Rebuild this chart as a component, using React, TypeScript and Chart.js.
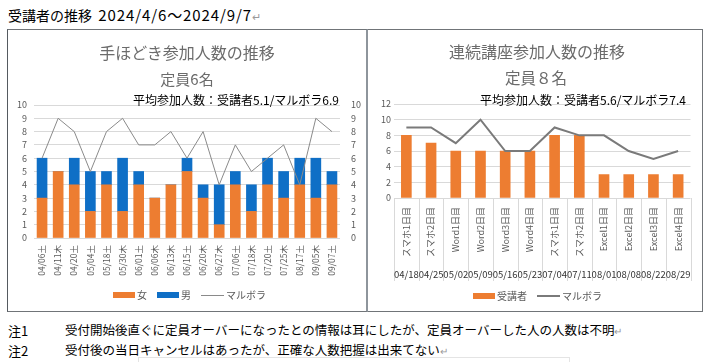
import React, { useEffect, useRef } from 'react';
import { Chart, registerables } from 'chart.js';

Chart.register(...registerables);

const JP = '"Noto Sans CJK JP", "Noto Sans", sans-serif';

// ---- Left chart data (手ほどき) ----
const leftDates = ['04/06土', '04/11木', '04/20土', '05/04土', '05/18土', '05/30木', '06/01土', '06/06木', '06/13木', '06/15土', '06/20木', '06/27木', '07/06土', '07/18木', '07/20土', '07/25木', '08/17土', '09/05木', '09/07土'];
const women = [3, 5, 4, 2, 4, 2, 4, 3, 4, 5, 3, 1, 4, 2, 4, 3, 4, 3, 4];
const men = [3, 0, 2, 3, 1, 4, 1, 0, 0, 1, 1, 3, 1, 2, 2, 2, 2, 3, 1];
const leftVolunteers = [6, 9, 8, 5, 8, 9, 7, 7, 8, 6, 8, 4, 7, 5, 6, 7, 4, 9, 8];
const leftYMax = 10;
const leftYStep = 1;

// ---- Right chart data (連続講座) ----
const rightCourses = ['スマホ1日目', 'スマホ2日目', 'Word1日目', 'Word2日目', 'Word3日目', 'Word4日目', 'スマホ1日目', 'スマホ2日目', 'Excel1日目', 'Excel2日目', 'Excel3日目', 'Excel4日目'];
const rightDates = ['04/18', '04/25', '05/02', '05/09', '05/16', '05/23', '07/04', '07/11', '08/01', '08/08', '08/22', '08/29'];
const rightStudents = [8, 7, 6, 6, 6, 6, 8, 8, 3, 3, 3, 3];
const rightVolunteers = [9, 9, 7, 10, 6, 6, 9, 8, 8, 6, 5, 6];
const rightYMax = 12;
const rightYStep = 2;

const ORANGE = '#ED7D31';
const BLUE = '#0F6FC6';
const TICK = '#595959';
const GRID = '#d9d9d9';

const leftLabelPlugin = {
  id: 'leftLabels',
  afterDraw(chart: any) {
    const { ctx, chartArea } = chart;
    const xs = chart.scales.x;
    ctx.save();
    ctx.fillStyle = TICK;
    ctx.font = `8.5px ${JP}`;
    ctx.textAlign = 'right';
    ctx.textBaseline = 'middle';
    leftDates.forEach((lab, i) => {
      const x = xs.getPixelForValue(i);
      ctx.save();
      ctx.translate(x, chartArea.bottom + 7);
      ctx.rotate(-Math.PI / 2);
      ctx.fillText(lab, 0, 0);
      ctx.restore();
    });
    ctx.restore();
  },
};

const rightLabelPlugin = {
  id: 'rightLabels',
  afterDraw(chart: any) {
    const { ctx, chartArea } = chart;
    const xs = chart.scales.x;
    ctx.save();
    ctx.strokeStyle = GRID;
    ctx.lineWidth = 1;
    for (let i = 0; i <= rightCourses.length; i++) {
      const x = Math.round(xs.getPixelForValue(i - 0.5)) + 0.5;
      ctx.beginPath();
      ctx.moveTo(x, chartArea.bottom);
      ctx.lineTo(x, chartArea.bottom + 83);
      ctx.stroke();
    }
    ctx.fillStyle = TICK;
    ctx.font = `9px ${JP}`;
    ctx.textAlign = 'right';
    ctx.textBaseline = 'middle';
    rightCourses.forEach((lab, i) => {
      const x = xs.getPixelForValue(i);
      ctx.save();
      ctx.translate(x, chartArea.bottom + 9);
      ctx.rotate(-Math.PI / 2);
      ctx.fillText(lab, 0, 0);
      ctx.restore();
    });
    ctx.fillStyle = '#333333';
    ctx.font = `9.5px ${JP}`;
    ctx.textAlign = 'center';
    rightDates.forEach((lab, i) => {
      const x = xs.getPixelForValue(i);
      ctx.fillText(lab, x, chartArea.bottom + 76);
    });
    ctx.restore();
  },
};

function tickFont(size: number) {
  return { family: JP, size };
}

function LeftChart() {
  const ref = useRef<HTMLCanvasElement>(null);
  useEffect(() => {
    if (!ref.current) return;
    const chart = new Chart(ref.current, {
      type: 'bar',
      data: {
        labels: leftDates,
        datasets: [
          { label: '女', data: women, backgroundColor: ORANGE, stack: 's', barThickness: 10, order: 2 } as any,
          { label: '男', data: men, backgroundColor: BLUE, stack: 's', barThickness: 10, order: 2 } as any,
          { type: 'line', label: 'マルボラ', data: leftVolunteers, borderColor: '#8a8a8a', borderWidth: 1, pointRadius: 0, yAxisID: 'y2', order: 1, tension: 0 } as any,
        ],
      },
      options: {
        animation: false,
        responsive: false,
        layout: { padding: { top: 75, left: 0, right: 0, bottom: 0 } },
        plugins: { legend: { display: false }, tooltip: { enabled: false } },
        scales: {
          x: {
            stacked: true,
            grid: { display: false },
            border: { display: false },
            ticks: { display: false },
            afterFit: (s: any) => { s.height = 73; },
          },
          y: {
            stacked: true,
            min: 0,
            max: leftYMax,
            ticks: { stepSize: leftYStep, autoSkip: false, padding: 7, color: TICK, font: tickFont(9) },
            grid: { color: GRID, drawTicks: false },
            border: { display: false },
            afterFit: (s: any) => { s.width = 26; },
          },
          y2: {
            position: 'right',
            min: 0,
            max: leftYMax,
            ticks: { stepSize: leftYStep, autoSkip: false, padding: 11, color: TICK, font: tickFont(9) },
            grid: { display: false, drawTicks: false },
            border: { display: false },
            afterFit: (s: any) => { s.width = 26; },
          },
        },
      } as any,
      plugins: [leftLabelPlugin],
    });
    return () => chart.destroy();
  }, []);
  return <canvas ref={ref} width={358} height={281} style={{ position: 'absolute', left: 0, top: 0, width: 358, height: 281 }} />;
}

function RightChart() {
  const ref = useRef<HTMLCanvasElement>(null);
  useEffect(() => {
    if (!ref.current) return;
    const chart = new Chart(ref.current, {
      type: 'bar',
      data: {
        labels: rightCourses,
        datasets: [
          { label: '受講者', data: rightStudents, backgroundColor: ORANGE, barThickness: 10, order: 2 } as any,
          { type: 'line', label: 'マルボラ', data: rightVolunteers, borderColor: '#7a7a7a', borderWidth: 2, pointRadius: 0, order: 1, tension: 0 } as any,
        ],
      },
      options: {
        animation: false,
        responsive: false,
        layout: { padding: { top: 74, left: 0, right: 11.5, bottom: 0 } },
        plugins: { legend: { display: false }, tooltip: { enabled: false } },
        scales: {
          x: {
            grid: { display: false },
            border: { display: false },
            ticks: { display: false },
            afterFit: (s: any) => { s.height = 113; },
          },
          y: {
            min: 0,
            max: rightYMax,
            ticks: { stepSize: rightYStep, autoSkip: false, padding: 3, color: TICK, font: tickFont(9) },
            grid: { color: GRID, drawTicks: false },
            border: { display: false },
            afterFit: (s: any) => { s.width = 26; },
          },
        },
      } as any,
      plugins: [rightLabelPlugin],
    });
    return () => chart.destroy();
  }, []);
  return <canvas ref={ref} width={334} height={281} style={{ position: 'absolute', left: 0, top: 0, width: 334, height: 281 }} />;
}

type LegendItem = { label: string; kind: 'box' | 'line'; color: string; lw?: number };

function Legend({ items, left, top }: { items: LegendItem[]; left: number; top: number }) {
  return (
    <div style={{ position: 'absolute', left, top, height: 12, display: 'flex', alignItems: 'center', gap: 10, fontSize: 10, color: TICK, fontFamily: JP, whiteSpace: 'nowrap' }}>
      {items.map((it, i) => (
        <div key={i} style={{ display: 'flex', alignItems: 'center', gap: 2 }}>
          {it.kind === 'box' ? (
            <div style={{ width: 22, height: 6, background: it.color }} />
          ) : (
            <div style={{ width: 23, height: it.lw || 1, background: it.color }} />
          )}
          <span style={{ lineHeight: '12px' }}>{it.label}</span>
        </div>
      ))}
    </div>
  );
}

function Text({ children, x, y, size, color, center }: any) {
  return (
    <div style={{ position: 'absolute', left: x, top: y - size / 2, fontSize: size, lineHeight: `${size}px`, color, whiteSpace: 'nowrap', transform: center ? 'translateX(-50%)' : undefined, fontFamily: JP }}>
      {children}
    </div>
  );
}

export default function App() {
  return (
    <div style={{ position: 'absolute', left: 0, top: 0, width: 712, height: 362, background: '#fff', overflow: 'hidden', fontFamily: JP }}>
      <Text x={8} y={15} size={14} color="#000">
        受講者の推移&nbsp;&nbsp;<span style={{ letterSpacing: 0.9, fontSize: 15 }}>2024/4/6～2024/9/7</span>
        <span style={{ color: '#9a9a9a', fontSize: 11 }}>↵</span>
      </Text>

      {/* left box */}
      <div style={{ position: 'absolute', left: 7, top: 29, width: 358, height: 281, borderLeft: '1px solid #555a60', borderTop: '1px solid #707478', borderBottom: '1px solid #707478', borderRight: '2px solid #8e959c', background: '#fff' }}>
        <LeftChart />
      </div>
      {/* right box */}
      <div style={{ position: 'absolute', left: 368, top: 29, width: 334, height: 281, border: '1px solid #707478', borderLeft: 'none', background: '#fff' }}>
        <RightChart />
      </div>

      <Text x={187} y={52} size={16} color="#6b6b6b" center>手ほどき参加人数の推移</Text>
      <Text x={187} y={78} size={15} color="#6b6b6b" center>定員6名</Text>
      <Text x={133} y={100} size={12} color="#000">平均参加人数：受講者5.1/マルボラ6.9</Text>
      <Legend left={113} top={289} items={[
        { label: '女', kind: 'box', color: ORANGE },
        { label: '男', kind: 'box', color: BLUE },
        { label: 'マルボラ', kind: 'line', color: '#8a8a8a', lw: 1 },
      ]} />

      <Text x={537} y={51} size={16} color="#6b6b6b" center>連続講座参加人数の推移</Text>
      <Text x={536} y={78} size={15.5} color="#6b6b6b" center>定員８名</Text>
      <Text x={480} y={100} size={12} color="#000">平均参加人数：受講者5.6/マルボラ7.4</Text>
      <Legend left={473} top={290} items={[
        { label: '受講者', kind: 'box', color: ORANGE },
        { label: 'マルボラ', kind: 'line', color: '#7a7a7a', lw: 2 },
      ]} />

      <Text x={8} y={330} size={13} color="#000">注1</Text>
      <Text x={65} y={330} size={12.5} color="#000">
        受付開始後直ぐに定員オーバーになったとの情報は耳にしたが、定員オーバーした人の人数は不明<span style={{ color: '#9a9a9a', fontSize: 10 }}>↵</span>
      </Text>
      <Text x={8} y={350} size={13} color="#000">注2</Text>
      <Text x={65} y={350} size={12.5} color="#000">
        受付後の当日キャンセルはあったが、正確な人数把握は出来てない<span style={{ color: '#9a9a9a', fontSize: 10 }}>↵</span>
      </Text>
      <div style={{ position: 'absolute', left: 138, top: 357, width: 430, height: 20, border: '1px solid #e4e4e4' }} />
    </div>
  );
}
